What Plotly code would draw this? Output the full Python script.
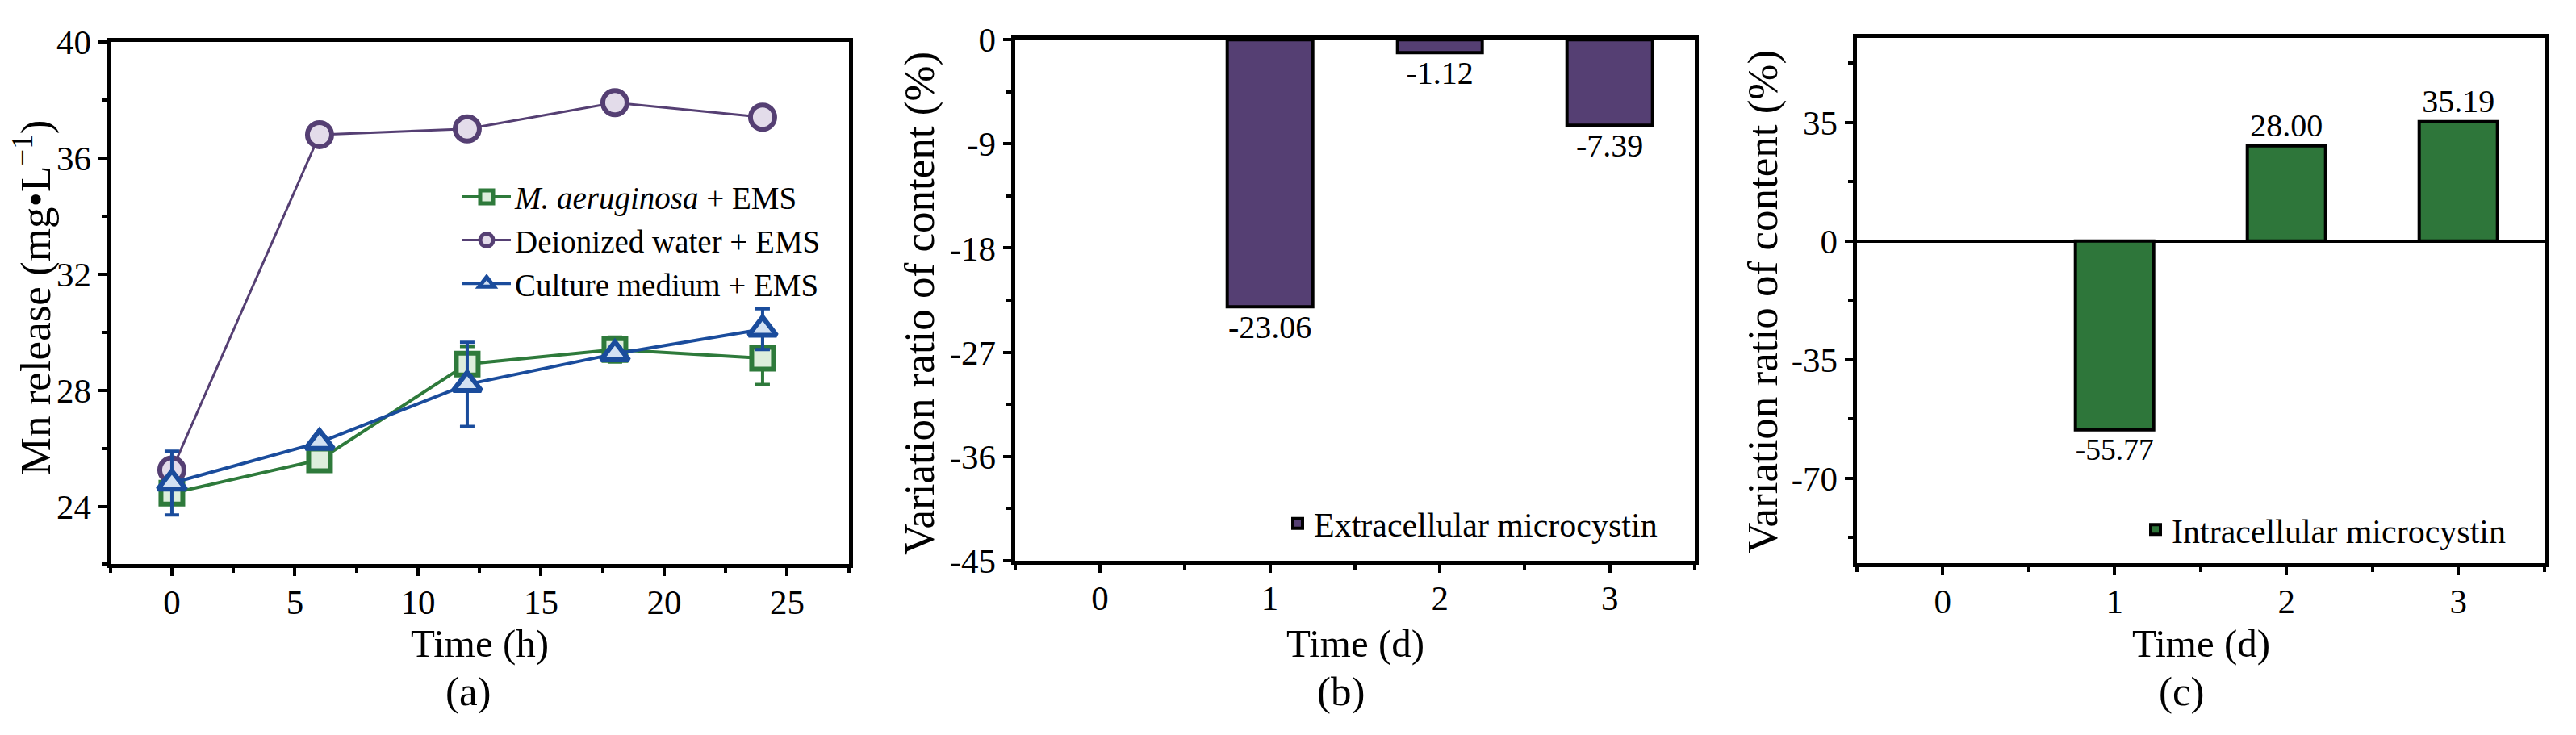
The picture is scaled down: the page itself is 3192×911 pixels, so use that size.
import plotly.graph_objects as go

# ---------------- data ----------------
time_h = [0, 6, 12, 18, 24]
mae_ems = [24.45, 25.6, 28.9, 29.4, 29.1]
mae_err = [0.25, 0.35, 0.6, 0.43, 0.9]
diw_ems = [25.25, 36.8, 37.0, 37.9, 37.4]
diw_err = [0.2, 0.1, 0.1, 0.1, 0.1]
cm_ems = [24.8, 26.2, 28.2, 29.25, 30.1]
cm_err = [1.1, 0.2, 1.45, 0.2, 0.7]

days = [1, 2, 3]
extra_mc = [-23.06, -1.12, -7.39]
intra_mc = [-55.77, 28.00, 35.19]

day_ticks = [0, 1, 2, 3]
a_xticks = [0, 5, 10, 15, 20, 25]
a_yticks = [24, 28, 32, 36, 40]
b_yticks = [-45, -36, -27, -18, -9, 0]
c_yticks = [-70, -35, 0, 35]

W, H = 3192, 911
FONT = "Liberation Serif, Times New Roman, serif"
GREEN, GREEN_F = "#2E7A3B", "#DDEEDC"
PURP, PURP_F = "#553F73", "#E3DCEA"
BLUE, BLUE_F = "#1A4C9C", "#D2E1F2"
BAR_B = "#553F73"
BAR_C = "#2E763A"

fig = go.Figure()

def add_series(x, y, err, name, color, fill, symbol, size, lw):
    fig.add_trace(go.Scatter(
        x=x, y=y, name=name, mode="lines+markers",
        line=dict(color=color, width=lw),
        marker=dict(symbol=symbol, size=size, color=fill,
                    line=dict(color=color, width=6)),
        error_y=dict(type="data", array=err, color=color, thickness=4, width=9),
        xaxis="x", yaxis="y", legend="legend"))

add_series(time_h, mae_ems, mae_err, "<i>M. aeruginosa</i> + EMS", GREEN, GREEN_F, "square", 27, 4)
add_series(time_h, diw_ems, diw_err, "Deionized water + EMS", PURP, PURP_F, "circle", 30, 3)
add_series(time_h, cm_ems, cm_err, "Culture medium + EMS", BLUE, BLUE_F, "triangle-up", 30, 4)

fig.add_trace(go.Bar(
    x=days, y=extra_mc, width=0.5, name="Extracellular microcystin",
    marker=dict(color=BAR_B, line=dict(color="black", width=4)),
    text=[f"{v:.2f}" for v in extra_mc], textposition="outside",
    textfont=dict(family=FONT, size=40, color="black"), cliponaxis=False,
    xaxis="x2", yaxis="y2", legend="legend2"))

fig.add_trace(go.Bar(
    x=days, y=intra_mc, width=0.46, name="Intracellular microcystin",
    marker=dict(color=BAR_C, line=dict(color="black", width=4)),
    text=[f"{v:.2f}" for v in intra_mc], textposition="outside",
    textfont=dict(family=FONT, size=40, color="black"), cliponaxis=False,
    xaxis="x3", yaxis="y3", legend="legend3"))

def px_x(p):
    return p / W

def px_y(p):
    return 1 - p / H

axis_common = dict(showline=True, linecolor="black", linewidth=5, mirror=True,
                   ticks="outside", ticklen=10, tickwidth=4, tickcolor="black",
                   showgrid=False, zeroline=False,
                   tickfont=dict(family=FONT, size=43, color="black"))
x_extra = dict(ticklabelstandoff=-5)

def minor(d):
    return dict(ticks="outside", ticklen=6, tickwidth=4, tickcolor="black", dtick=d, showgrid=False)

fig.update_layout(
    width=W, height=H, margin=dict(l=0, r=0, t=0, b=0),
    paper_bgcolor="white", plot_bgcolor="white",
    font=dict(family=FONT, color="black"),
    bargap=0,
    xaxis=dict(domain=[px_x(136.7), px_x(1051.7)], range=[-2.5, 27.5],
               tickvals=a_xticks, ticktext=[str(v) for v in a_xticks], minor=minor(2.5),
               anchor="y", **x_extra, **axis_common),
    yaxis=dict(domain=[px_y(713.3), px_y(30.3)], range=[22, 40],
               tickvals=a_yticks, ticktext=[str(v) for v in a_yticks], minor=minor(2),
               anchor="x", **axis_common),
    xaxis2=dict(domain=[px_x(1257.7), px_x(2100)], range=[-0.5, 3.5],
                tickvals=day_ticks, ticktext=[str(v) for v in day_ticks], minor=minor(0.5),
                anchor="y2", **x_extra, **axis_common),
    yaxis2=dict(domain=[px_y(708.3), px_y(27.7)], range=[-45, 0],
                tickvals=b_yticks, ticktext=[str(v) for v in b_yticks], minor=minor(4.5),
                anchor="x2", **axis_common),
    xaxis3=dict(domain=[px_x(2300.7), px_x(3152.7)], range=[-0.5, 3.5],
                tickvals=day_ticks, ticktext=[str(v) for v in day_ticks], minor=minor(0.5),
                anchor="y3", **x_extra, **axis_common),
    yaxis3=dict(domain=[px_y(711.7), px_y(25)], range=[-95, 60],
                tickvals=c_yticks, ticktext=[str(v) for v in c_yticks], minor=minor(17.5),
                anchor="x3", **axis_common),
    legend=dict(x=px_x(568), y=px_y(290), xanchor="left", yanchor="middle",
                bgcolor="rgba(0,0,0,0)", font=dict(family=FONT, size=39, color="black"),
                itemwidth=60, tracegroupgap=0),
    legend2=dict(x=px_x(1588), y=px_y(660), xanchor="left", yanchor="middle",
                 bgcolor="rgba(0,0,0,0)", font=dict(family=FONT, size=42, color="black")),
    legend3=dict(x=px_x(2651), y=px_y(668), xanchor="left", yanchor="middle",
                 bgcolor="rgba(0,0,0,0)", font=dict(family=FONT, size=42, color="black")),
)

fig.update_layout(yaxis3=dict(zeroline=True, zerolinecolor="black", zerolinewidth=4))

ann = []
def text(xp, yp, s, size, angle=0):
    ann.append(dict(x=px_x(xp), y=px_y(yp), xref="paper", yref="paper", text=s,
                    showarrow=False, textangle=angle, xanchor="center", yanchor="middle",
                    font=dict(family=FONT, size=size, color="black")))

text(40, 365, "Mn release (mg•L<sup>−1</sup>)", 53, -90)
text(1140, 372, "Variation ratio of content (%)", 53, -90)
text(2185, 370, "Variation ratio of content (%)", 53, -90)
text(594, 817, "Time (h)", 49)
text(1679, 817, "Time (d)", 49)
text(2727, 817, "Time (d)", 49)
text(580, 879, "(a)", 51)
text(1661, 879, "(b)", 51)
text(2703, 879, "(c)", 51)
fig.update_layout(annotations=ann)

fig.write_html("out.html")
